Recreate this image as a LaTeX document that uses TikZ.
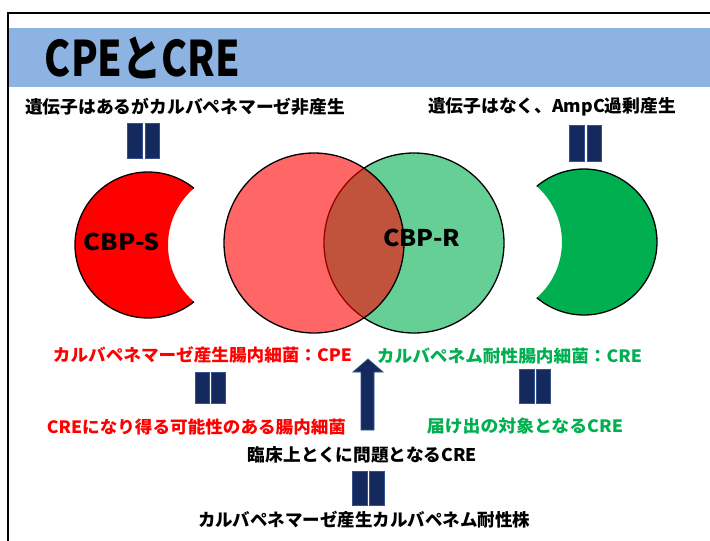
\documentclass[tikz,border=0pt]{standalone}
\usepackage{fontspec}
\setmainfont{Noto Sans CJK JP}
\usepackage{graphicx}
\definecolor{band}{HTML}{8DB3E2}
\definecolor{navy}{HTML}{14295E}
\definecolor{navyedge}{HTML}{34528F}
\definecolor{vgreen}{HTML}{00B050}
\newcommand\fitw[2]{\resizebox{#1}{\height}{#2}}
\tikzset{
  lbl/.style={inner sep=0pt, anchor=center, font=\bfseries},
  eqbar/.style={fill=navy, draw=navyedge, line width=0.8pt},
  outl/.style={draw=black, line width=1.3pt}
}
\begin{document}
\begin{tikzpicture}[x=1pt,y=-1pt]
\useasboundingbox (0,0) rectangle (710,541);
\clip (0,0) rectangle (710,541);
\fill[white] (0,0) rectangle (710,541);
% frame and title band
\fill[band] (8,28) rectangle (712,87);
\draw[line width=1.2pt] (8,545) -- (8,13) -- (715,13);
\node[lbl] (title) at (142.5,58) {\fontsize{49}{49}\selectfont\fitw{195pt}{CPEとCRE}};
% top texts
\node[lbl] (top1) at (185,107) {\fontsize{17.5}{17.5}\selectfont\fitw{320pt}{遺伝子はあるがカルバペネマーゼ非産生}};
\node[lbl] (top2) at (552,107) {\fontsize{17.5}{17.5}\selectfont\fitw{248pt}{遺伝子はなく、AmpC過剰産生}};
% equal bars top
\path[eqbar] (127,123) rectangle (142,158) (145,123) rectangle (159,158);
\path[eqbar] (569,125) rectangle (584,161) (587,125) rectangle (601,161);
% left crescent
\fill[red] (193.94,188.27) arc[start angle=-51, end angle=-309, radius=73]
  arc[start angle=130.85, end angle=229.15, radius=75] -- cycle;
\draw[outl] (193.94,188.27) arc[start angle=-51, end angle=-309, radius=73];
% right crescent
\fill[vgreen] (536.77,186.34) arc[start angle=-130.3, end angle=130.3, radius=73]
  arc[start angle=48.78, end angle=-48.78, radius=74] -- cycle;
\draw[outl] (536.77,186.34) arc[start angle=-130.3, end angle=130.3, radius=73];
% venn
\path[outl, fill=vgreen, fill opacity=0.6] (414,243) circle[radius=90];
\path[outl, fill=red, fill opacity=0.6] (314,243) circle[radius=90];
\node[lbl] (cbps) at (122,242) {\fontsize{23}{23}\selectfont\fitw{76pt}{CBP-S}};
\node[lbl] (cbpr) at (421.5,238) {\fontsize{23}{23}\selectfont\fitw{77pt}{CBP-R}};
% lower texts
\node[lbl, text=red] (red1) at (202.5,355) {\fontsize{17}{17}\selectfont\fitw{299pt}{カルバペネマーゼ産生腸内細菌：CPE}};
\node[lbl, text=vgreen] (green1) at (509.5,356) {\fontsize{17}{17}\selectfont\fitw{265pt}{カルバペネム耐性腸内細菌：CRE}};
\node[lbl, text=red] (red2) at (196.5,427) {\fontsize{17}{17}\selectfont\fitw{299pt}{CREになり得る可能性のある腸内細菌}};
\node[lbl, text=vgreen] (green2) at (525,426) {\fontsize{17}{17}\selectfont\fitw{196pt}{届け出の対象となるCRE}};
\node[lbl] (black1) at (362.5,455) {\fontsize{17.5}{17.5}\selectfont\fitw{229pt}{臨床上とくに問題となるCRE}};
\node[lbl] (black2) at (364,520) {\fontsize{17.5}{17.5}\selectfont\fitw{332pt}{カルバペネマーゼ産生カルバペネム耐性株}};
% middle bars
\path[eqbar] (195,372) rectangle (209,403) (211,372) rectangle (225,403);
\path[eqbar] (519,369) rectangle (534,403) (536,369) rectangle (550,403);
\path[eqbar] (352,471) rectangle (367,505) (369,471) rectangle (384,505);
% up arrow
\path[eqbar] (361,430) -- (361,372) -- (353,372) -- (368,359) -- (383,372) -- (374,372) -- (374,430) -- cycle;
\end{tikzpicture}
\end{document}
